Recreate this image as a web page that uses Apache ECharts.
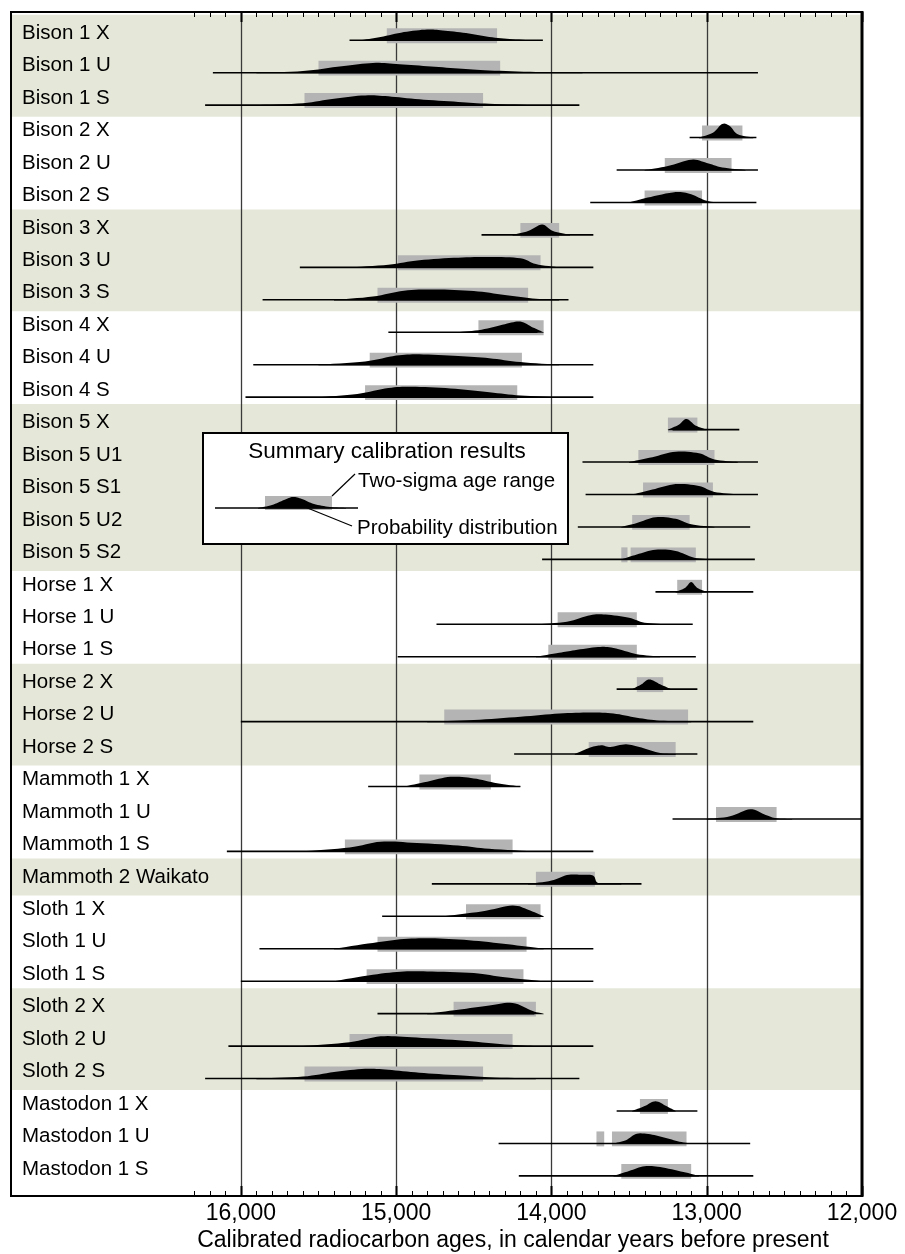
<!DOCTYPE html>
<html><head><meta charset="utf-8">
<script src="https://cdn.jsdelivr.net/npm/echarts@6/dist/echarts.min.js"></script>
<style>html,body{margin:0;padding:0;background:#fff}#c{width:905px;height:1254px}</style>
</head><body><div id="c"></div>
<script>
const labels = ['Bison 1 X','Bison 1 U','Bison 1 S','Bison 2 X','Bison 2 U','Bison 2 S','Bison 3 X','Bison 3 U','Bison 3 S','Bison 4 X','Bison 4 U','Bison 4 S','Bison 5 X','Bison 5 U1','Bison 5 S1','Bison 5 U2','Bison 5 S2','Horse 1 X','Horse 1 U','Horse 1 S','Horse 2 X','Horse 2 U','Horse 2 S','Mammoth 1 X','Mammoth 1 U','Mammoth 1 S','Mammoth 2 Waikato','Sloth 1 X','Sloth 1 U','Sloth 1 S','Sloth 2 X','Sloth 2 U','Sloth 2 S','Mastodon 1 X','Mastodon 1 U','Mastodon 1 S'];
const lineFrom = [15300,16180,16230,13110,13580,13750,14450,15620,15860,15050,15920,15970,13220,13800,13780,13830,14060,13330,14740,14990,13580,16000,14240,15180,13220,16090,14770,15090,15880,16000,15120,16080,16230,13580,14340,14210];
const lineTo   = [14055,12670,13820,12680,12670,12680,13730,13730,13890,14090,13730,13730,12790,12670,12670,12720,12690,12700,13090,13070,13060,12700,13060,14200,12000,13730,13420,14090,13730,13730,14110,13730,13820,13060,12720,12700];
const rangeFrom = [15060,15500,15590,13030,13270,13400,14200,14990,15120,14470,15170,15200,13250,13440,13410,13480,13490,13190,13960,14020,13450,14690,13760,14850,12940,15330,14100,14550,15120,15190,14630,15300,15590,13430,13610,13550];
const rangeTo   = [14350,14330,14440,12770,12840,13030,13950,14070,14150,14050,14190,14220,13060,12950,12960,13110,13070,13030,13450,13450,13280,13120,13200,14390,12550,14250,13720,14070,14160,14180,14100,14250,14440,13250,13130,13100];
const extraRangeRow  = [16, 34];
const extraRangeFrom = [13550, 13710];
const extraRangeTo   = [13510, 13660];
const distributions = [
 [[15230,0],[15100,0.1],[14950,0.25],[14800,0.33],[14700,0.3],[14550,0.22],[14400,0.1],[14250,0.03],[14100,0]],
 [[15900,0],[15600,0.05],[15350,0.2],[15150,0.3],[15000,0.27],[14800,0.2],[14600,0.13],[14400,0.07],[14100,0.02],[13800,0]],
 [[15900,0],[15600,0.06],[15400,0.2],[15200,0.3],[15050,0.27],[14850,0.18],[14600,0.1],[14400,0.04],[14100,0]],
 [[13050,0],[12960,0.15],[12900,0.42],[12850,0.35],[12800,0.1],[12700,0]],
 [[13400,0],[13250,0.12],[13100,0.32],[13000,0.22],[12900,0.08],[12750,0]],
 [[13500,0],[13380,0.15],[13200,0.32],[13100,0.25],[13000,0.05],[12900,0]],
 [[14250,0],[14150,0.12],[14060,0.32],[13990,0.12],[13880,0]],
 [[15300,0],[15050,0.08],[14850,0.22],[14600,0.3],[14400,0.32],[14200,0.28],[14100,0.1],[13950,0]],
 [[15400,0],[15150,0.1],[14950,0.28],[14750,0.32],[14500,0.27],[14300,0.15],[14100,0.03],[13950,0]],
 [[14600,0],[14450,0.08],[14300,0.25],[14200,0.33],[14120,0.15],[14050,0]],
 [[15500,0],[15200,0.1],[15000,0.28],[14850,0.32],[14600,0.27],[14400,0.2],[14200,0.08],[13950,0]],
 [[15500,0],[15250,0.1],[15050,0.28],[14900,0.32],[14650,0.27],[14400,0.15],[14200,0.05],[13950,0]],
 [[13250,0],[13180,0.15],[13130,0.33],[13070,0.12],[13000,0]],
 [[13500,0],[13350,0.15],[13200,0.32],[13050,0.27],[12950,0.08],[12800,0]],
 [[13480,0],[13350,0.15],[13200,0.32],[13050,0.26],[12950,0.08],[12800,0]],
 [[13550,0],[13450,0.12],[13330,0.3],[13200,0.25],[13100,0.08],[12950,0]],
 [[13550,0],[13450,0.15],[13330,0.3],[13200,0.26],[13080,0.05],[12950,0]],
 [[13200,0],[13140,0.12],[13100,0.3],[13060,0.12],[13000,0]],
 [[14100,0],[13900,0.08],[13750,0.28],[13650,0.3],[13500,0.2],[13400,0.05],[13250,0]],
 [[14100,0],[13950,0.12],[13850,0.2],[13700,0.3],[13600,0.27],[13450,0.08],[13300,0]],
 [[13480,0],[13420,0.15],[13370,0.3],[13300,0.15],[13230,0]],
 [[14800,0],[14500,0.05],[14200,0.15],[13950,0.25],[13750,0.28],[13600,0.25],[13450,0.12],[13300,0.03],[13100,0]],
 [[13850,0],[13750,0.2],[13680,0.27],[13620,0.22],[13520,0.3],[13420,0.2],[13300,0.03],[13200,0]],
 [[14950,0],[14800,0.15],[14650,0.3],[14500,0.25],[14350,0.1],[14200,0]],
 [[13000,0],[12850,0.08],[12720,0.3],[12620,0.12],[12550,0.02],[12450,0]],
 [[15600,0],[15300,0.12],[15100,0.3],[14900,0.27],[14600,0.18],[14400,0.08],[14100,0]],
 [[14150,0],[14000,0.1],[13900,0.27],[13800,0.28],[13730,0.25],[13700,0.03],[13600,0.01],[13550,0]],
 [[14700,0],[14450,0.15],[14250,0.33],[14150,0.2],[14050,0]],
 [[15400,0],[15150,0.18],[14950,0.3],[14750,0.32],[14500,0.25],[14250,0.12],[14050,0]],
 [[15400,0],[15150,0.2],[14950,0.3],[14800,0.3],[14500,0.25],[14300,0.12],[14050,0]],
 [[14800,0],[14600,0.12],[14400,0.25],[14250,0.33],[14120,0.08],[14050,0]],
 [[15600,0],[15300,0.12],[15100,0.3],[14900,0.27],[14600,0.18],[14300,0.05],[14100,0]],
 [[15900,0],[15600,0.06],[15400,0.2],[15200,0.3],[15050,0.27],[14850,0.18],[14600,0.1],[14400,0.04],[14100,0]],
 [[13480,0],[13400,0.15],[13330,0.3],[13260,0.15],[13200,0]],
 [[13600,0],[13520,0.1],[13450,0.3],[13350,0.27],[13250,0.15],[13150,0.03],[13050,0]],
 [[13600,0],[13500,0.15],[13400,0.3],[13300,0.27],[13150,0.12],[13050,0]]
];
const shadedFirst = [0, 6, 12, 20, 26, 30];
const shadedLast  = [2, 8, 16, 22, 26, 32];
const gridYears = [16000, 15000, 14000, 13000];
const majorTickYears = [16000, 15000, 14000, 13000, 12000];
const minorTickFrom = 16300, minorTickTo = 12100, minorTickStep = 100;
const axisTitle = 'Calibrated radiocarbon ages, in calendar years before present';
const legendTitle = 'Summary calibration results';
const legendRange = 'Two-sigma age range';
const legendDist = 'Probability distribution';

const FONT = '"Liberation Sans", Arial, Helvetica, sans-serif';
const chart = echarts.init(document.getElementById('c'), null, {renderer: 'canvas'});

const LABEL_OFF = 0.215, BAND_HALF = 0.57;

// outline of a filled curve through the given pixel points (Catmull-Rom drawn as cubic Bezier), closed on the baseline
function curveOutline(pts, base) {
  const n = pts.length, out = [[pts[0][0], base + 0.6]];
  const steps = 8;
  for (let k = 0; k < n - 1; k++) {
    const p0 = pts[Math.max(k - 1, 0)], p1 = pts[k], p2 = pts[k + 1], p3 = pts[Math.min(k + 2, n - 1)];
    const c1 = [p1[0] + (p2[0] - p0[0]) / 6, Math.min(base, p1[1] + (p2[1] - p0[1]) / 6)];
    const c2 = [p2[0] - (p3[0] - p1[0]) / 6, Math.min(base, p2[1] - (p3[1] - p1[1]) / 6)];
    for (let s = (k === 0 ? 0 : 1); s <= steps; s++) {
      const t = s / steps, u = 1 - t;
      const a = u * u * u, b = 3 * u * u * t, c = 3 * u * t * t, e = t * t * t;
      out.push([a * p1[0] + b * c1[0] + c * c2[0] + e * p2[0], Math.min(base, a * p1[1] + b * c1[1] + c * c2[1] + e * p2[1])]);
    }
  }
  out.push([pts[n - 1][0], base + 0.6]);
  return out;
}

function renderBand(params, api) {
  const cs = params.coordSys;
  const rowPx = api.size([0, 1])[1];
  const yA = api.coord([12000, api.value(1)])[1] - (LABEL_OFF + BAND_HALF) * rowPx;
  const yB = api.coord([12000, api.value(2)])[1] - (LABEL_OFF - BAND_HALF) * rowPx;
  const top = Math.max(yA, cs.y), bot = Math.min(yB, cs.y + cs.height);
  return {type: 'rect', shape: {x: cs.x, y: top, width: cs.width, height: bot - top}, style: {fill: '#e5e8d8'}};
}
function renderGrid(params, api) {
  const cs = params.coordSys;
  return {type: 'group', children: gridYears.map(yr => {
    const x = Math.round(api.coord([yr, 0])[0]) + 0.5;
    return {type: 'line', shape: {x1: x, y1: cs.y, x2: x, y2: cs.y + cs.height}, style: {stroke: '#3a3a3a', lineWidth: 1.3}};
  })};
}
function renderRow(params, api) {
  const i = api.value(1);
  const cs = params.coordSys;
  const base = api.coord([12000, i])[1];
  const rowPx = api.size([0, 1])[1];
  const X = yr => api.coord([yr, i])[0];
  const ch = [];
  const ranges = [[rangeFrom[i], rangeTo[i]]];
  extraRangeRow.forEach((r, k) => { if (r === i) ranges.push([extraRangeFrom[k], extraRangeTo[k]]); });
  ranges.forEach(([a, b]) => {
    const xa = X(a), xb = X(b);
    ch.push({type: 'rect', shape: {x: Math.min(xa, xb), y: base - 0.37 * rowPx, width: Math.abs(xb - xa), height: 0.46 * rowPx}, style: {fill: '#b4b4b4'}});
  });
  ch.push({type: 'line', shape: {x1: X(lineFrom[i]), y1: base, x2: X(lineTo[i]), y2: base}, style: {stroke: '#000', lineWidth: 1.6}});
  const pts = distributions[i].map(([yr, h]) => [X(yr), base - h * rowPx]);
  ch.push({type: 'polygon', shape: {points: curveOutline(pts, base)}, style: {fill: '#000'}});
  ch.push({type: 'text', style: {text: labels[i], x: cs.x + 11, y: base - LABEL_OFF * rowPx, fill: '#000', font: '20.5px ' + FONT, align: 'left', verticalAlign: 'middle'}});
  return {type: 'group', children: ch};
}
function renderFrame(params, api) {
  const cs = params.coordSys;
  const ch = [];
  const top = cs.y, bot = cs.y + cs.height;
  for (let yr = minorTickFrom; yr >= minorTickTo; yr -= minorTickStep) {
    if (yr % 1000 === 0) continue;
    const x = Math.round(api.coord([yr, 0])[0]) + 0.5;
    ch.push({type: 'line', shape: {x1: x, y1: top, x2: x, y2: top + 5}, style: {stroke: '#000', lineWidth: 1}});
    ch.push({type: 'line', shape: {x1: x, y1: bot, x2: x, y2: bot - 5}, style: {stroke: '#000', lineWidth: 1}});
  }
  majorTickYears.forEach(yr => {
    const x = Math.round(api.coord([yr, 0])[0]) + 0.5;
    ch.push({type: 'line', shape: {x1: x, y1: top, x2: x, y2: top + 10}, style: {stroke: '#000', lineWidth: 2}});
    ch.push({type: 'line', shape: {x1: x, y1: bot, x2: x, y2: bot - 10}, style: {stroke: '#000', lineWidth: 2}});
  });
  ch.push({type: 'rect', shape: {x: cs.x, y: cs.y, width: cs.width, height: cs.height}, style: {fill: 'none', stroke: '#000', lineWidth: 2}});
  ch.push({type: 'line', shape: {x1: cs.x + cs.width, y1: cs.y - 1, x2: cs.x + cs.width, y2: bot + 1}, style: {stroke: '#000', lineWidth: 3}});
  return {type: 'group', children: ch};
}

const legendCurve = curveOutline([[258,508],[272,505],[284,500],[293,497],[302,499],[314,504],[330,507],[346,508]], 508);

const option = {
  animation: false,
  backgroundColor: '#fff',
  grid: {left: 11, right: 43, top: 12, bottom: 58, containLabel: false},
  xAxis: {
    type: 'value', inverse: true, min: 12000, max: 17480, interval: 1000,
    axisLine: {show: false}, axisTick: {show: false}, splitLine: {show: false},
    axisLabel: {show: true, margin: 6, color: '#000', fontSize: 23, fontFamily: FONT, showMinLabel: true, showMaxLabel: true,
      formatter: v => v <= 16000 ? v.toLocaleString('en-US') : ''}
  },
  yAxis: {type: 'value', inverse: true, min: -0.87, max: 35.62, show: false},
  series: [
    {type: 'custom', z: 1, renderItem: renderBand, encode: {x: 0, y: 1}, data: shadedFirst.map((f, k) => [12000, f, shadedLast[k]]), silent: true},
    {type: 'custom', z: 2, renderItem: renderGrid, encode: {x: 0, y: 1}, data: [[12000, 0]], silent: true},
    {type: 'custom', z: 3, renderItem: renderRow, encode: {x: 0, y: 1}, data: labels.map((_, i) => [12000, i]), silent: true},
    {type: 'custom', z: 4, renderItem: renderFrame, encode: {x: 0, y: 1}, data: [[12000, 0]], silent: true}
  ],
  graphic: [
    {type: 'rect', z: 100, shape: {x: 203, y: 433, width: 365, height: 111}, style: {fill: '#fff', stroke: '#000', lineWidth: 2}},
    {type: 'text', z: 101, style: {text: legendTitle, x: 387, y: 452, fill: '#000', font: '22.5px ' + FONT, align: 'center', verticalAlign: 'middle'}},
    {type: 'text', z: 101, style: {text: legendRange, x: 358, y: 481, fill: '#000', font: '20.5px ' + FONT, align: 'left', verticalAlign: 'middle'}},
    {type: 'text', z: 101, style: {text: legendDist, x: 357, y: 528, fill: '#000', font: '20.5px ' + FONT, align: 'left', verticalAlign: 'middle'}},
    {type: 'rect', z: 101, shape: {x: 265, y: 496, width: 67, height: 14}, style: {fill: '#b4b4b4'}},
    {type: 'line', z: 102, shape: {x1: 215, y1: 508, x2: 358, y2: 508}, style: {stroke: '#000', lineWidth: 1.6}},
    {type: 'polygon', z: 102, shape: {points: legendCurve}, style: {fill: '#000'}},
    {type: 'line', z: 102, shape: {x1: 332, y1: 496, x2: 355, y2: 474}, style: {stroke: '#000', lineWidth: 1.2}},
    {type: 'line', z: 102, shape: {x1: 305, y1: 507, x2: 352, y2: 526}, style: {stroke: '#000', lineWidth: 1.2}},
    {type: 'text', z: 101, style: {text: axisTitle, x: 513, y: 1241, fill: '#000', font: '23px ' + FONT, align: 'center', verticalAlign: 'middle'}}
  ]
};
chart.setOption(option);
</script></body></html>
